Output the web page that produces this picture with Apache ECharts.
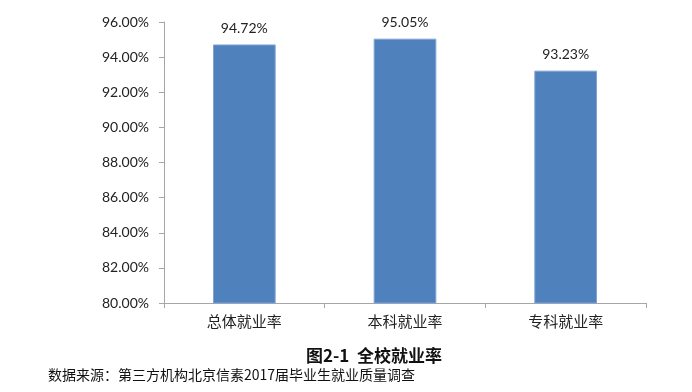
<!DOCTYPE html>
<html><head><meta charset="utf-8">
<script src="https://cdn.jsdelivr.net/npm/echarts@6/dist/echarts.min.js"></script>
<style>html,body{margin:0;padding:0;background:#fff}#c{width:692px;height:392px}</style>
</head><body><div id="c"></div>
<script>
const categories = ['总体就业率', '本科就业率', '专科就业率'];
const values = [94.72, 95.05, 93.23];
const yTicks = [80, 82, 84, 86, 88, 90, 92, 94, 96];
const titleText = '图2-1  全校就业率';
const sourceText = '数据来源：第三方机构北京信素2017届毕业生就业质量调查';

const chart = echarts.init(document.getElementById('c'));
const lf = 'Lato, "Noto Sans CJK SC", sans-serif';
chart.setOption({
  animation: false,
  backgroundColor: '#fff',
  grid: { left: 164, right: 46, top: 22, bottom: 89 },
  xAxis: {
    type: 'category', data: categories,
    axisLine: { lineStyle: { color: '#a6a6a6', width: 1 } },
    axisTick: { show: true, length: 5, lineStyle: { color: '#a6a6a6' } },
    axisLabel: { color: '#222', fontSize: 15, margin: 11, fontFamily: '"Noto Sans CJK SC", sans-serif' }
  },
  yAxis: {
    type: 'value', min: yTicks[0], max: yTicks[yTicks.length - 1], interval: 2,
    axisLine: { show: true, lineStyle: { color: '#a6a6a6', width: 1 } },
    axisTick: { show: true, length: 5, lineStyle: { color: '#a6a6a6' } },
    splitLine: { show: false },
    axisLabel: { color: '#222', fontSize: 14, margin: 15, fontFamily: lf,
      formatter: v => v.toFixed(2) + '%' }
  },
  series: [{
    type: 'bar', data: values, barWidth: '39%',
    itemStyle: { color: '#4f81bd', borderColor: '#7ea3d4', borderWidth: 1 },
    label: { show: true, position: 'top', distance: 9, color: '#222', fontSize: 14, fontFamily: lf,
      formatter: p => p.value.toFixed(2) + '%' }
  }],
  graphic: [
    { type: 'text', x: 374, y: 356, style: { text: titleText, textAlign: 'center', textVerticalAlign: 'middle', font: 'bold 17px "Noto Sans CJK SC", sans-serif', fill: '#111' } },
    { type: 'text', x: 48, y: 375, style: { text: sourceText, textAlign: 'left', textVerticalAlign: 'middle', font: '14px "Noto Sans CJK SC", sans-serif', fill: '#111' } }
  ]
});
</script></body></html>
